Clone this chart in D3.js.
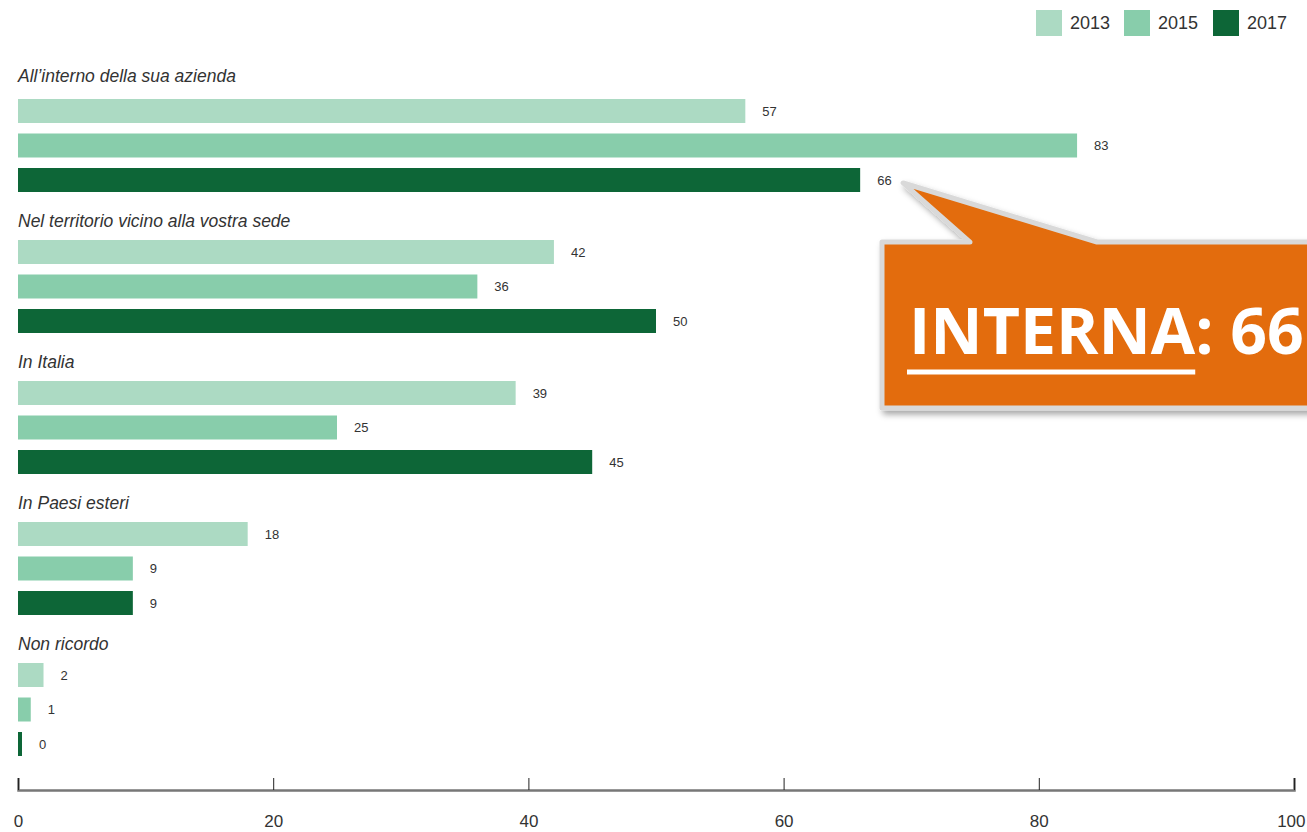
<!DOCTYPE html>
<html>
<head>
<meta charset="utf-8">
<script src="https://cdn.jsdelivr.net/npm/d3@7"></script>
<style>
  html, body { margin: 0; padding: 0; background: #fff; }
  svg { display: block; font-family: "Liberation Sans", Arial, sans-serif; }
</style>
</head>
<body>
<svg id="chart" width="1307" height="832"></svg>
<script>
// Where the training took place, by survey year (%)
const categories = [
  "All’interno della sua azienda",
  "Nel territorio vicino alla vostra sede",
  "In Italia",
  "In Paesi esteri",
  "Non ricordo"
];
const years = ["2013", "2015", "2017"];
const values2013 = [57, 42, 39, 18, 2];
const values2015 = [83, 36, 25, 9, 1];
const values2017 = [66, 50, 45, 9, 0];
const xTicks = [0, 20, 40, 60, 80, 100];
const calloutText = "INTERNA";
const calloutValue = "66";

const colors = ["#acdac3", "#88cdab", "#0d6637"];
const seriesValues = [values2013, values2015, values2017];

const svg = d3.select("#chart");
const W = 1307, H = 832;
const FONT = "'Liberation Sans', Arial, sans-serif";

const x = d3.scaleLinear().domain([0, 100]).range([18, 1294]);
const yGroup = d3.scaleBand().domain(categories).range([58, 763]).paddingInner(0).paddingOuter(0);
const ySeries = d3.scaleBand().domain(years).range([41, 134]).paddingInner(10.5 / 34.5).paddingOuter(0);

// Category blocks
const groups = svg.append("g").selectAll("g.cat")
  .data(categories)
  .join("g")
  .attr("class", "cat")
  .attr("transform", d => `translate(0,${yGroup(d)})`);

groups.append("text")
  .attr("x", 18)
  .attr("y", (d, i) => ySeries(years[0]) - (i === 0 ? 17 : 13))
  .attr("font-size", 17.5)
  .attr("font-style", "italic")
  .attr("fill", "#333")
  .text(d => d);

groups.each(function(cat, ci) {
  const g = d3.select(this);
  const rows = years.map((yr, si) => ({ yr, si, v: seriesValues[si][ci] }));
  g.selectAll("rect")
    .data(rows)
    .join("rect")
    .attr("x", x(0))
    .attr("y", d => ySeries(d.yr))
    .attr("width", d => Math.max(x(d.v) - x(0), 4))
    .attr("height", ySeries.bandwidth())
    .attr("fill", d => colors[d.si]);
  g.selectAll("text.val")
    .data(rows)
    .join("text")
    .attr("class", "val")
    .attr("x", d => x(0) + Math.max(x(d.v) - x(0), 4) + 17)
    .attr("y", d => ySeries(d.yr) + ySeries.bandwidth() / 2)
    .attr("dy", "0.35em")
    .attr("font-size", 13)
    .attr("fill", "#333")
    .text(d => d.v);
});

// Axis
const axisY = 790;
const axis = d3.axisBottom(x).tickValues(xTicks).tickSizeInner(-12).tickSizeOuter(-12).tickPadding(25);
const axG = svg.append("g").attr("transform", `translate(0,${axisY})`).call(axis);
axG.select(".domain").attr("stroke", "#777").attr("stroke-width", 2.5);
axG.selectAll(".tick line").attr("stroke", "#222").attr("stroke-width", 1);
axG.selectAll(".tick text").attr("font-size", 17).attr("fill", "#333").attr("font-family", FONT);
axG.selectAll(".tick text").filter(d => d === 100).attr("text-anchor", "end").attr("dx", 11);

// Legend
const legendX = [1036, 1124, 1213];
const legend = svg.append("g").selectAll("g")
  .data(years)
  .join("g")
  .attr("transform", (d, i) => `translate(${legendX[i]},10)`);
legend.append("rect").attr("width", 26).attr("height", 26).attr("fill", (d, i) => colors[i]);
legend.append("text").attr("x", 34).attr("y", 19).attr("font-size", 18).attr("fill", "#333").text(d => d);

// Callout pointing at the 2017 value of the first category
const defs = svg.append("defs");
const f = defs.append("filter").attr("id", "shadow").attr("x", "-10%").attr("y", "-10%").attr("width", "130%").attr("height", "140%");
f.append("feDropShadow").attr("dx", 3).attr("dy", 4).attr("stdDeviation", 3).attr("flood-color", "#000").attr("flood-opacity", 0.35);

const tipX = x(values2017[0]) + 43;
const tipY = yGroup(categories[0]) + ySeries("2017") + ySeries.bandwidth() / 2 + 3;
const boxL = 882, boxT = 242, boxB = 408, boxR = 1340;
const baseL = 970, baseR = 1097;
const calloutPath = `M${boxL},${boxT} L${baseL},${boxT} L${tipX},${tipY} L${baseR},${boxT} L${boxR},${boxT} L${boxR},${boxB} L${boxL},${boxB} Z`;
svg.append("path")
  .attr("d", calloutPath)
  .attr("fill", "#e36c0a")
  .attr("stroke", "#d9d9d9")
  .attr("stroke-width", 5)
  .attr("stroke-linejoin", "round")
  .attr("filter", "url(#shadow)");

const textX = 909;
const label = svg.append("text")
  .attr("x", textX)
  .attr("y", 354)
  .attr("font-family", "'Open Sans', 'Noto Sans', sans-serif")
  .attr("font-weight", "bold")
  .attr("font-size", 66)
  .attr("fill", "#fff");
const main = label.append("tspan").text(calloutText);
label.append("tspan").text(": " + calloutValue);
// keep the whole callout text inside the page
const fullW = label.node().getComputedTextLength();
const room = W - 3 - textX;
if (fullW > room) label.attr("font-size", 66 * room / fullW);
const mainW = main.node().getComputedTextLength();
svg.append("line")
  .attr("x1", textX - 2).attr("x2", textX + mainW)
  .attr("y1", 372).attr("y2", 372)
  .attr("stroke", "#fff").attr("stroke-width", 5);
</script>
</body>
</html>
